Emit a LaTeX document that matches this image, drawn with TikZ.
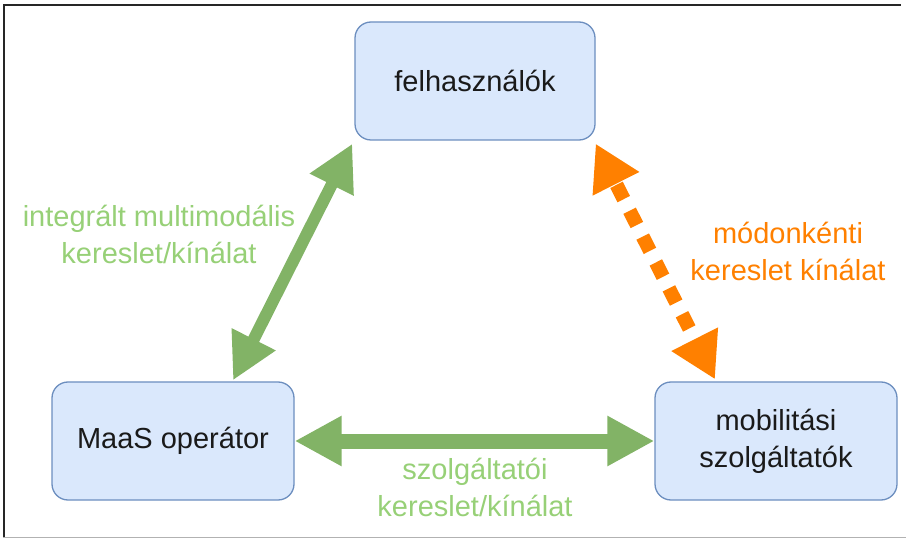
\documentclass[tikz,border=0pt]{standalone}
\usepackage{fontspec}
\setmainfont{Liberation Sans}
\usetikzlibrary{arrows.meta}
\definecolor{boxfill}{HTML}{DAE8FC}
\definecolor{boxline}{HTML}{6C8EBF}
\definecolor{garrow}{HTML}{82B366}
\definecolor{gtext}{HTML}{97D077}
\definecolor{orng}{HTML}{FF8000}
\definecolor{txt}{HTML}{1A1A1A}
\tikzset{
  actor/.style={draw=boxline, fill=boxfill, line width=1.3pt, rounded corners=16pt,
    minimum width=240pt, minimum height=118pt, inner sep=0pt, align=center,
    text=txt, font=\fontsize{29}{37}\selectfont},
  lbl/.style={align=center, font=\fontsize{29}{37}\selectfont, inner sep=0pt},
}
\begin{document}
\begin{tikzpicture}[x=1pt,y=-1pt]
\useasboundingbox (0,0) rectangle (906,540);
% frame
\draw[black!85, line width=2pt] (3,5) -- (901,5);
\draw[black!85, line width=2pt] (4,5) -- (4,537);
\draw[black!30, line width=1.5pt] (3,537.5) -- (906,537.5);
% nodes
\node[actor] (felh) at (475,81) {felhasználók};
\node[actor, minimum width=242pt] (maas) at (173,441) {MaaS operátor};
\node[actor, minimum width=242pt] (mob) at (776,441) {mobilitási\\szolgáltatók};
% anchor points
\coordinate (g1) at ([xshift=60pt,yshift=1pt]maas.north);
\coordinate (g2) at ([xshift=-2pt,yshift=-3pt]felh.south west);
\coordinate (o1) at ([xshift=0pt,yshift=-3pt]felh.south east);
\coordinate (o2) at ([xshift=-61pt,yshift=2pt]mob.north);
% arrows
\draw[draw=garrow, line width=12pt,
  {Triangle[length=46pt,width=46pt]}-{Triangle[length=46pt,width=46pt]}] (g1) -- (g2);
\draw[draw=garrow, line width=15pt,
  {Triangle[length=47pt,width=47pt]}-{Triangle[length=47pt,width=47pt]}] (maas.east) -- (mob.west);
\draw[draw=orng, line width=14pt, dash pattern=on 16pt off 13pt, dash phase=-4pt,
  {Triangle[length=45pt,width=49pt]}-{Triangle[length=45pt,width=49pt]}] (o1) -- (o2);
% labels
\node[lbl, text=gtext] (l1) at (159,234) {integrált multimodális\\kereslet/kínálat};
\node[lbl, text=orng] (l2) at (788,251) {módonkénti\\kereslet kínálat};
\node[lbl, text=gtext] (l3) at (475,487) {szolgáltatói\\kereslet/kínálat};
\end{tikzpicture}
\end{document}
